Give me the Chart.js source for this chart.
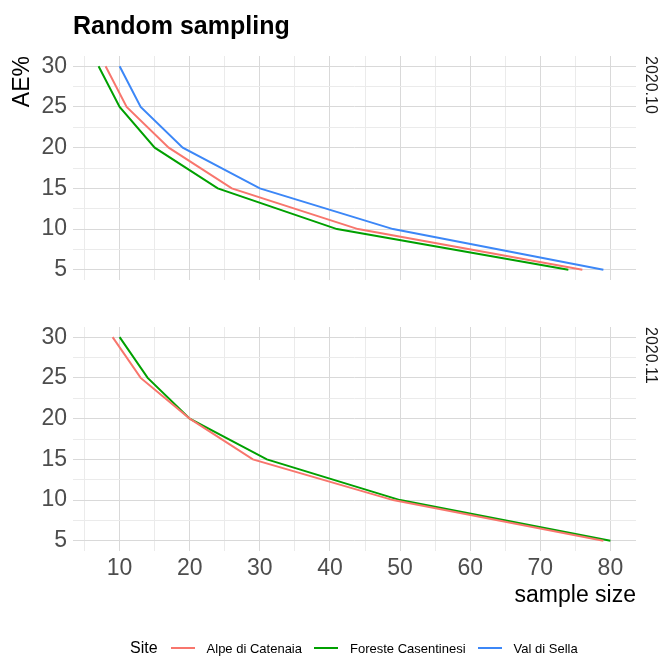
<!DOCTYPE html>
<html>
<head>
<meta charset="utf-8">
<script src="https://cdn.jsdelivr.net/npm/chart.js@4.4.1/dist/chart.umd.min.js"></script>
<style>
  body { margin: 0; background: #fff; }
  #wrap { position: relative; width: 672px; height: 657px; overflow: hidden; }
  #topChart { position: absolute; left: 0; top: 0; }
  #bottomChart { position: absolute; left: 0; top: 300px; }
  #legend {
    position: absolute; left: 130px; top: 637px; height: 22px;
    display: flex; align-items: center; white-space: nowrap;
    font-family: 'Liberation Sans', Arial, sans-serif;
    font-size: 13px; color: #000;
  }
  #legend .ttl { font-size: 16px; margin-right: 13px; }
  #legend .key { display: inline-block; width: 24px; height: 2px; margin-right: 12px; }
  #legend .lab { margin-right: 12px; }
</style>
</head>
<body>
<div id="wrap">
  <canvas id="topChart" width="672" height="305"></canvas>
  <canvas id="bottomChart" width="672" height="357"></canvas>
  <div id="legend"></div>
</div>
<script>
// data
const sites = ['Alpe di Catenaia', 'Foreste Casentinesi', 'Val di Sella'];
const aeLevels = [30, 25, 20, 15, 10, 5];

// panel 2020.10 : sample size for each AE% level
const alpe10 = [8, 11, 17, 26, 44, 76];
const foreste10 = [7, 10, 15, 24, 41, 74];
const sella10 = [10, 13, 19, 30, 49, 79];

// panel 2020.11
const alpe11 = [9, 13, 20, 29, 49, 79];
const foreste11 = [10, 14, 20, 31, 50, 80];

const xTicks = [10, 20, 30, 40, 50, 60, 70, 80];
const yTicks = [5, 10, 15, 20, 25, 30];

const siteColors = ['#F8766D', '#00A000', '#3C87F7'];
const FONT = "'Liberation Sans', Arial, sans-serif";

function makeSeries(xs) {
    return xs.map((x, i) => ({ x: x, y: aeLevels[i] }));
}

// major + minor grid positions, ggplot style
const xMinor = xTicks.map(v => v - 5);
const yMinor = yTicks.slice(1).map(v => v - 2.5);

function gridColor(majors) {
    return ctx => majors.includes(ctx.tick.value) ? '#D9D9D9' : '#EBEBEB';
}

function panelScales(stripText, showX) {
    return {
        x: {
            type: 'linear',
            min: 3.35,
            max: 83.65,
            afterBuildTicks: axis => {
                axis.ticks = xMinor.concat(xTicks).sort((a, b) => a - b).map(v => ({ value: v }));
            },
            ticks: {
                display: showX,
                autoSkip: false,
                maxRotation: 0,
                padding: 4,
                color: '#4D4D4D',
                font: { family: FONT, size: 23 },
                callback: v => xTicks.includes(v) ? v : ''
            },
            grid: { color: gridColor(xTicks), drawTicks: false, lineWidth: 1 },
            border: { display: false },
            title: {
                display: showX,
                text: 'sample size',
                align: 'end',
                color: '#000',
                font: { family: FONT, size: 23 },
                padding: { top: 0, bottom: 7 }
            },
            // top panel keeps an empty strip so tick label padding does not shrink it
            afterFit: s => { s.height = showX ? 65 : 25; }
        },
        y: {
            min: 3.75,
            max: 31.25,
            afterBuildTicks: axis => {
                axis.ticks = yMinor.concat(yTicks).sort((a, b) => a - b).map(v => ({ value: v }));
            },
            ticks: {
                autoSkip: false,
                padding: 6,
                color: '#4D4D4D',
                font: { family: FONT, size: 23 },
                callback: v => yTicks.includes(v) ? v : ''
            },
            grid: { color: gridColor(yTicks), drawTicks: false, lineWidth: 1 },
            border: { display: false },
            title: {
                display: !showX,
                text: 'AE%',
                align: 'end',
                color: '#000',
                font: { family: FONT, size: 23 },
                padding: { top: 9 }
            },
            afterFit: s => { s.width = 73; }
        },
        strip: {
            position: 'right',
            min: 0,
            max: 1,
            ticks: { display: false },
            grid: { display: false },
            border: { display: false },
            title: {
                display: true,
                text: stripText,
                align: 'end',
                color: '#1A1A1A',
                font: { family: FONT, size: 16 },
                padding: { top: 12 }
            },
            afterFit: s => { s.width = 36; }
        }
    };
}

function datasets(list) {
    return list.map((xs, i) => ({
        label: sites[i],
        data: makeSeries(xs),
        borderColor: siteColors[i],
        backgroundColor: siteColors[i],
        borderWidth: 2,
        pointRadius: 0,
        tension: 0,
        fill: false
    }));
}

Chart.defaults.font.family = FONT;

new Chart(document.getElementById('topChart').getContext('2d'), {
    type: 'line',
    data: { datasets: datasets([alpe10, foreste10, sella10]) },
    options: {
        responsive: false,
        animation: false,
        layout: { padding: { left: 0, right: 0, top: 0, bottom: 0 } },
        plugins: {
            legend: { display: false },
            tooltip: { enabled: false },
            title: {
                display: true,
                text: 'Random sampling',
                align: 'start',
                fullSize: false,
                color: '#000',
                font: { family: FONT, size: 25, weight: 'bold' },
                padding: { top: 12, bottom: 14 }
            }
        },
        scales: panelScales('2020.10', false)
    }
});

new Chart(document.getElementById('bottomChart').getContext('2d'), {
    type: 'line',
    data: { datasets: datasets([alpe11, foreste11]) },
    options: {
        responsive: false,
        animation: false,
        layout: { padding: { left: 0, right: 0, top: 27, bottom: 41 } },
        plugins: {
            legend: { display: false },
            tooltip: { enabled: false }
        },
        scales: panelScales('2020.11', true)
    }
});

// legend built from the site names
const legend = document.getElementById('legend');
legend.innerHTML = '<span class="ttl">Site</span>' + sites.map((s, i) =>
    '<span class="key" style="background:' + siteColors[i] + '"></span><span class="lab">' + s + '</span>'
).join('');
</script>
</body>
</html>
